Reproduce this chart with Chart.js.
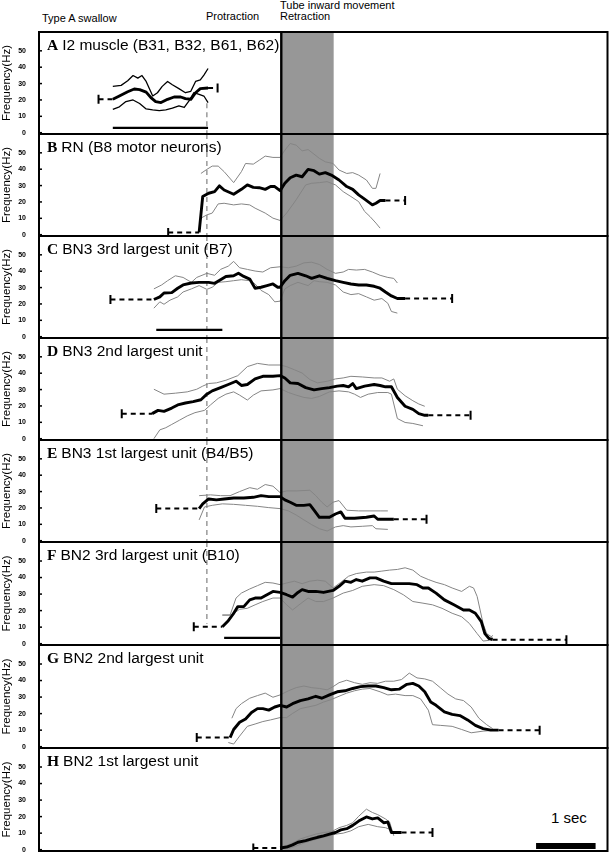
<!DOCTYPE html>
<html>
<head>
<meta charset="utf-8">
<script src="https://cdn.jsdelivr.net/npm/chart.js@4.4.1/dist/chart.umd.min.js"></script>
<style>
  body { margin: 0; background: #fff; }
  #fig { position: relative; width: 614px; height: 853px; background: #fff; font-family: "Liberation Sans", Arial, sans-serif; }
  #fig canvas { position: absolute; left: 0; }
  .hd { position: absolute; font-size: 11px; line-height: 11px; white-space: nowrap; color: #000; }
</style>
</head>
<body>
<div id="fig">
  <div class="hd" style="left:42px;top:13px">Type A swallow</div>
  <div class="hd" style="left:206px;top:11px">Protraction</div>
  <div class="hd" style="left:280px;top:0px">Tube inward movement</div>
  <div class="hd" style="left:280px;top:11px">Retraction</div>
  <div class="hd" style="left:551px;top:810px;font-size:15px;line-height:15px">1 sec</div>
</div>
<script>
// time in seconds from retraction onset, frequency in Hz

const xMin = -4.07, xMax = 5.48;
const yMin = -0.8, yMax = 61.5;
const yTicks = [0, 10, 20, 30, 40, 50];
const protractionT = -1.25;
const retractStart = 0, retractEnd = 0.88;

// A  I2 muscle
const aMean = [[-2.83,20.4],[-2.72,22.4],[-2.58,25],[-2.47,26.7],[-2.38,26.3],[-2.27,24.8],[-2.19,21.4],[-2.11,19],[-2.02,18.4],[-1.91,20.4],[-1.80,21.8],[-1.69,21.8],[-1.61,20.8],[-1.52,20.4],[-1.44,24.4],[-1.36,26.9],[-1.23,27.3]];
const aUpper = [[-2.83,28.3],[-2.69,28.9],[-2.58,31.7],[-2.49,34.9],[-2.41,33.3],[-2.34,34.9],[-2.27,31.3],[-2.16,22.4],[-2.08,24.4],[-2.00,28.3],[-1.91,31.3],[-1.83,29.3],[-1.72,26.9],[-1.61,24.4],[-1.52,25.3],[-1.44,31.3],[-1.36,32.3],[-1.30,35.2],[-1.23,39.2]];
const aLower = [[-2.83,14.3],[-2.72,15.8],[-2.61,19],[-2.49,20],[-2.38,17.8],[-2.27,14.5],[-2.16,13.9],[-2.05,13.5],[-1.94,13.9],[-1.83,15],[-1.72,16.4],[-1.63,15.4],[-1.55,19.4],[-1.47,24.4],[-1.38,23.4],[-1.30,22.4],[-1.23,18.4]];
const aPre = [[-3.07,20.4],[-2.83,20.4]];
const aPost = [[-1.23,27.3],[-1.07,27.3]];
const aBar = [[-2.83,3],[-1.23,3]];

// B  RN (B8)
const bMean = [[-1.38,1.4],[-1.32,23.3],[-1.22,25.3],[-1.12,26.3],[-1.04,29.8],[-0.96,27.3],[-0.80,24.7],[-0.67,27.7],[-0.57,30.4],[-0.47,28.9],[-0.37,28.7],[-0.27,27.7],[-0.18,29.4],[-0.11,29.4],[-0.02,26.9],[0.06,31.4],[0.15,34.8],[0.25,36.4],[0.35,35.4],[0.45,39.9],[0.55,39.1],[0.64,37],[0.74,37.9],[0.84,36.4],[0.97,33.4],[1.10,29.4],[1.20,27.7],[1.30,24.3],[1.40,21.7],[1.53,18.2],[1.59,19.2],[1.66,20.9],[1.75,20.9]];
const bUpper = [[-1.35,37.4],[-1.25,39.9],[-1.16,41.9],[-1.06,41.9],[-0.96,38.5],[-0.80,31.8],[-0.67,38.5],[-0.60,43.5],[-0.47,43.1],[-0.37,45.5],[-0.27,48],[-0.14,47.2],[-0.02,47.2],[0.06,51.6],[0.15,55.7],[0.25,54.7],[0.35,51.2],[0.45,52],[0.55,49.2],[0.64,46.6],[0.74,44.5],[0.87,43.5],[0.97,39.5],[1.10,37.4],[1.20,37.9],[1.30,36.4],[1.43,33.4],[1.53,28.3],[1.59,28.3],[1.66,37.4]];
const bLower = [[-1.35,10.1],[-1.25,12.1],[-1.16,13.2],[-1.06,18.8],[-0.96,19.2],[-0.80,18.2],[-0.67,18.8],[-0.53,18.2],[-0.44,16.2],[-0.27,13.2],[-0.14,10.1],[-0.02,8.7],[0.09,13.2],[0.25,21.3],[0.41,30.4],[0.51,31.4],[0.64,31.8],[0.77,32.4],[0.91,30.4],[1.04,26.3],[1.17,23.3],[1.30,20.2],[1.40,14.2],[1.49,11.1],[1.59,7.1],[1.66,4]];
const bPre = [[-1.90,1.4],[-1.38,1.4]];
const bPost = [[1.75,20.9],[2.08,20.9]];

// C  BN3 3rd largest (B7)
const cMean = [[-2.14,22.7],[-2.04,24.3],[-1.97,26.7],[-1.84,26.9],[-1.74,29.6],[-1.65,31.6],[-1.51,32.8],[-1.38,33.2],[-1.22,33.2],[-1.12,32.6],[-1.02,34.8],[-0.93,36.8],[-0.80,37.2],[-0.72,38.7],[-0.63,36.8],[-0.53,35.2],[-0.44,29.6],[-0.34,30.2],[-0.24,31.2],[-0.14,32.2],[-0.06,30.2],[-0.02,30.2],[0.06,34.2],[0.15,37.5],[0.28,38.7],[0.41,37.2],[0.51,35.6],[0.64,37.2],[0.77,35.6],[0.91,34.2],[1.04,33.2],[1.17,32.2],[1.30,31.6],[1.43,31.6],[1.56,30.8],[1.66,29.6],[1.75,27.3],[1.85,24.9],[1.95,23.3],[2.08,23.3]];
const cUpper = [[-2.14,29.2],[-2.01,31.6],[-1.91,34.2],[-1.78,37.2],[-1.65,36.2],[-1.51,33.2],[-1.42,36.2],[-1.25,38.7],[-1.12,37.5],[-1.02,41.1],[-0.89,43.1],[-0.80,46],[-0.70,42.1],[-0.57,41.1],[-0.44,40.1],[-0.31,39.5],[-0.18,42.1],[-0.02,42.7],[0.12,42.1],[0.25,43.1],[0.38,45.1],[0.51,45.5],[0.64,44.1],[0.77,41.1],[0.91,38.7],[1.04,39.5],[1.13,41.1],[1.26,40.7],[1.40,41.1],[1.53,39.5],[1.66,37.5],[1.79,36.2],[1.89,35.6],[1.95,32.8]];
const cLower = [[-2.14,17.4],[-2.04,21.3],[-1.97,19.8],[-1.87,22.3],[-1.74,24.3],[-1.65,27.3],[-1.51,29.2],[-1.38,31.2],[-1.25,28.9],[-1.16,30.2],[-1.06,33.2],[-0.93,33.6],[-0.80,34.2],[-0.67,34.8],[-0.53,34.2],[-0.44,32.2],[-0.34,28.3],[-0.21,25.7],[-0.11,21.3],[-0.02,21.7],[0.06,29.2],[0.15,31.2],[0.28,33.2],[0.45,31.2],[0.55,34.2],[0.64,33.6],[0.77,33.2],[0.91,31.6],[1.04,27.3],[1.17,25.7],[1.30,26.3],[1.43,24.3],[1.56,22.3],[1.69,23.3],[1.79,20.4],[1.85,15.4],[1.95,14.4]];
const cPre = [[-2.87,22.7],[-2.14,22.7]];
const cPost = [[2.08,23.3],[2.87,23.3]];
const cBar = [[-2.10,4.2],[-0.99,4.2]];

// D  BN3 2nd largest
const dMean = [[-2.17,15.3],[-2.07,17.3],[-1.97,16.7],[-1.84,18.7],[-1.74,20.6],[-1.61,21.8],[-1.48,22.6],[-1.35,23.8],[-1.25,27.2],[-1.16,29.2],[-1.02,31.2],[-0.89,33.1],[-0.76,35.1],[-0.67,32.5],[-0.57,33.1],[-0.44,36.5],[-0.31,38.1],[-0.14,38.1],[-0.02,38.5],[0.06,37.1],[0.15,34.1],[0.28,33.7],[0.41,31.2],[0.55,29.8],[0.68,30.6],[0.81,31.2],[0.94,32.1],[1.04,32.5],[1.13,31.7],[1.20,33.7],[1.26,30.6],[1.40,32.1],[1.56,33.1],[1.66,32.5],[1.75,31.7],[1.85,31.7],[1.95,25.2],[2.08,19.8],[2.21,17.9],[2.31,15.3],[2.41,14.3],[2.47,14.3]];
const dUpper = [[-2.14,30.2],[-1.97,27.2],[-1.78,27.8],[-1.58,28.6],[-1.42,30.2],[-1.32,32.1],[-1.22,33.7],[-1.09,34.1],[-0.93,35.7],[-0.73,38.5],[-0.57,44],[-0.40,46],[-0.21,45],[-0.02,45],[0.09,44],[0.22,42.1],[0.35,40.1],[0.48,36.1],[0.61,34.1],[0.77,35.1],[0.91,36.5],[1.04,37.1],[1.17,38.1],[1.36,37.7],[1.56,37.1],[1.69,37.1],[1.82,35.1],[1.89,36.5],[1.95,30.2],[2.08,26.2],[2.21,23.2],[2.31,21.2],[2.41,19.8]];
const dLower = [[-2.14,0],[-2.04,5.4],[-1.94,6.7],[-1.84,8.7],[-1.71,11.3],[-1.58,13.9],[-1.45,15.9],[-1.29,17.3],[-1.19,20.6],[-1.06,24.6],[-0.93,27.2],[-0.80,28.6],[-0.70,26.6],[-0.57,23.6],[-0.47,26.6],[-0.34,29.2],[-0.14,29.8],[-0.02,30.6],[0.12,28.2],[0.25,26.6],[0.38,25.2],[0.51,24.6],[0.64,25.8],[0.81,28.6],[0.97,29.2],[1.13,28.6],[1.23,27.2],[1.33,25.2],[1.46,27.2],[1.62,28.2],[1.79,28.2],[1.85,27.2],[1.95,12.3],[2.08,9.9],[2.21,9.3],[2.38,7.9]];
const dPre = [[-2.68,15.3],[-2.17,15.3]];
const dPost = [[2.47,14.3],[3.18,14.3]];

// E  BN3 1st largest (B4/B5)
const eMean = [[-1.38,19.6],[-1.32,22.5],[-1.22,25.5],[-1.09,24.9],[-0.96,25.5],[-0.80,26.1],[-0.63,26.1],[-0.47,26.5],[-0.34,27.5],[-0.21,26.9],[-0.02,26.9],[0.06,24.9],[0.15,23.5],[0.25,21.6],[0.38,21.6],[0.48,22],[0.55,18.6],[0.64,14.3],[0.81,14.3],[0.91,16.3],[1.00,17.6],[1.07,13.7],[1.23,13.7],[1.43,14.3],[1.56,15.1],[1.62,13.1],[1.75,13.1],[1.89,13.1]];
const eUpper = [[-1.38,27.5],[-1.19,28],[-1.02,27.5],[-0.86,27.5],[-0.70,30],[-0.53,32.4],[-0.40,31.4],[-0.27,34.3],[-0.14,33.3],[-0.02,29.4],[0.09,30.4],[0.25,30.4],[0.48,30.8],[0.58,27.5],[0.68,23.5],[0.77,20.6],[0.87,23.5],[0.97,24.5],[1.10,18.6],[1.30,18.2],[1.49,18.2],[1.66,18.2],[1.79,18.2]];
const eLower = [[-1.38,12.7],[-1.29,20.6],[-1.16,21.6],[-0.99,22.5],[-0.80,22.2],[-0.60,21.6],[-0.40,21],[-0.21,20.2],[-0.02,19.6],[0.12,18.2],[0.25,15.7],[0.38,12.7],[0.51,9.8],[0.64,7.3],[0.77,5.9],[0.91,8.4],[1.04,9.2],[1.17,8.4],[1.36,8.8],[1.53,9.2],[1.59,7.3],[1.79,6.9]];
const ePre = [[-2.10,19.6],[-1.38,19.6]];
const ePost = [[1.89,13.1],[2.44,13.1]];

// F  BN2 3rd largest (B10)
const fMean = [[-0.99,10.2],[-0.89,13.9],[-0.81,17.8],[-0.73,22.4],[-0.63,22.4],[-0.53,26.5],[-0.44,27.6],[-0.34,27.6],[-0.24,29.6],[-0.14,31.6],[-0.02,31],[0.09,29.6],[0.19,28.2],[0.28,31],[0.35,32.7],[0.45,31.6],[0.58,31.6],[0.71,31],[0.87,32.2],[0.97,34.7],[1.07,37.8],[1.17,37.1],[1.26,38.8],[1.36,37.8],[1.49,39.8],[1.59,39.8],[1.72,37.8],[1.85,36.3],[2.02,36.3],[2.15,36.3],[2.28,35.7],[2.38,33.7],[2.47,33.7],[2.60,30.6],[2.74,26.5],[2.90,23.5],[3.06,20.4],[3.16,20.4],[3.26,18.4],[3.36,13.3],[3.42,6.1],[3.49,3.1],[3.55,2.4]];
const fUpper = [[-0.99,17.3],[-0.86,17.3],[-0.76,27.6],[-0.67,30.6],[-0.53,33.1],[-0.40,35.1],[-0.27,37.1],[-0.14,36.7],[-0.02,35.7],[0.09,36.7],[0.22,37.8],[0.35,36.3],[0.48,37.8],[0.61,38.4],[0.74,37.8],[0.87,33.7],[1.00,37.1],[1.13,40.8],[1.26,42.4],[1.43,43.3],[1.56,43.3],[1.69,43.9],[1.82,44.5],[1.95,44.9],[2.08,45.9],[2.21,44.5],[2.34,40.8],[2.47,38.8],[2.60,37.1],[2.74,35.7],[2.87,33.7],[3.03,31.6],[3.16,34.7],[3.23,33.7],[3.29,28.6],[3.39,12.2],[3.45,6.1],[3.55,3.7]];
const fLower = [[-0.99,17.3],[-0.86,17.3],[-0.80,18.4],[-0.70,20.8],[-0.57,21.4],[-0.44,23.5],[-0.31,25.5],[-0.14,27.6],[-0.02,27.6],[0.09,23.5],[0.19,20.4],[0.32,24.1],[0.45,27.6],[0.58,25.5],[0.71,25.5],[0.87,27.6],[1.04,30.6],[1.20,32.2],[1.36,34.7],[1.56,35.7],[1.72,35.1],[1.89,32.7],[2.05,29.6],[2.21,25.5],[2.38,24.5],[2.54,23.5],[2.70,21.4],[2.87,18.4],[3.03,16.3],[3.16,12.2],[3.29,6.1],[3.39,1.6],[3.49,2],[3.55,5.1]];
const fPre = [[-1.47,10.2],[-0.99,10.2]];
const fPost = [[3.55,2.4],[4.79,2.4]];
const fBar = [[-0.96,3.5],[-0.02,3.5]];

// G  BN2 2nd largest
const gMean = [[-0.86,5.5],[-0.80,10.4],[-0.70,14.8],[-0.60,16.8],[-0.50,20.7],[-0.40,23],[-0.31,23],[-0.21,22.1],[-0.11,24],[-0.02,25],[0.09,24],[0.19,26],[0.32,27.9],[0.45,28.9],[0.58,30.5],[0.68,29.3],[0.81,31.3],[0.94,33.2],[1.07,33.8],[1.20,35.2],[1.33,36.3],[1.46,36.7],[1.59,36.7],[1.72,35.7],[1.85,34.4],[1.98,34.8],[2.11,37.7],[2.21,38.3],[2.31,36.7],[2.41,33.2],[2.51,27],[2.60,25],[2.74,21.1],[2.87,19.5],[3.00,18.8],[3.13,16.2],[3.26,12.9],[3.39,10.9],[3.52,10],[3.65,10]];
const gUpper = [[-0.83,17.2],[-0.76,23],[-0.67,26],[-0.53,29.3],[-0.40,30.9],[-0.27,32.4],[-0.14,29.9],[-0.02,31.3],[0.12,33.8],[0.25,35.7],[0.38,36.7],[0.51,35.7],[0.64,35.2],[0.77,34.4],[0.87,36.3],[0.97,38.7],[1.10,40.2],[1.23,38.7],[1.36,37.7],[1.49,38.7],[1.62,38.3],[1.75,39.6],[1.89,39.6],[2.02,40.6],[2.15,44.5],[2.28,41.6],[2.41,41],[2.54,39.6],[2.67,35.7],[2.80,31.8],[2.93,28.9],[3.06,27.9],[3.19,24],[3.32,17.2],[3.45,13.3],[3.55,10.9]];
const gLower = [[-0.89,2.5],[-0.80,1.6],[-0.70,6.4],[-0.57,12.3],[-0.44,13.7],[-0.31,15.2],[-0.18,16.2],[-0.02,17.6],[0.09,17.6],[0.19,20.1],[0.32,23],[0.45,24],[0.58,25],[0.71,27],[0.84,28.5],[0.97,30.5],[1.10,32.4],[1.23,33.8],[1.36,34.8],[1.49,35.2],[1.66,33.2],[1.79,31.3],[1.92,31.8],[2.08,30.9],[2.21,30.9],[2.34,28.9],[2.47,22.1],[2.54,13.3],[2.67,12.9],[2.87,12.3],[3.03,10.4],[3.19,8.4],[3.39,9.4],[3.55,9.8]];
const gPre = [[-1.42,5.5],[-0.86,5.5]];
const gPost = [[3.65,10],[4.34,10]];

// H  BN2 1st largest
const hMean = [[-0.02,1],[0.09,1.6],[0.19,2.9],[0.28,4.5],[0.41,5.5],[0.51,6.5],[0.61,7.5],[0.71,8.4],[0.81,9.4],[0.91,10.4],[1.00,12],[1.10,12.7],[1.20,14.7],[1.30,17.3],[1.43,19.8],[1.53,18.6],[1.62,19.2],[1.72,16.3],[1.79,16.7],[1.85,10.4],[2.02,10.4]];
const hUpper = [[0.09,2.5],[0.19,4.1],[0.32,6.5],[0.45,8],[0.58,9.4],[0.71,10.4],[0.84,10.8],[0.97,13.3],[1.10,14.7],[1.20,16.3],[1.30,20.2],[1.43,24.5],[1.53,22.5],[1.62,21.2],[1.75,18.6],[1.82,16.7],[1.89,8.4]];
const hLower = [[0.12,0.6],[0.25,2.2],[0.38,4.1],[0.51,5.5],[0.64,6.9],[0.77,8],[0.91,9.4],[1.04,10],[1.17,11.4],[1.30,13.9],[1.46,15.3],[1.62,13.9],[1.75,13.3],[1.85,12]];
const hPre = [[-0.47,1],[-0.02,1]];
const hPost = [[2.02,10.4],[2.54,10.4]];
const scaleBar = [[4.28,2.2],[5.28,2.2]];

// protraction marker: [top, bottom] in Hz per panel
const protractionSpan = { A: [18, yMin], B: [yMax, yMin], C: [yMax, yMin], D: [yMax, yMin], E: [yMax, yMin], F: [yMax, 12] };

const panels = [
  { key: "A", name: "I2 muscle (B31, B32, B61, B62)", mean: aMean, upper: aUpper, lower: aLower, pre: aPre, post: aPost, bar: aBar, dark: true },
  { key: "B", name: "RN (B8 motor neurons)", mean: bMean, upper: bUpper, lower: bLower, pre: bPre, post: bPost },
  { key: "C", name: "BN3 3rd largest unit (B7)", mean: cMean, upper: cUpper, lower: cLower, pre: cPre, post: cPost, bar: cBar },
  { key: "D", name: "BN3 2nd largest unit", mean: dMean, upper: dUpper, lower: dLower, pre: dPre, post: dPost },
  { key: "E", name: "BN3 1st largest unit (B4/B5)", mean: eMean, upper: eUpper, lower: eLower, pre: ePre, post: ePost },
  { key: "F", name: "BN2 3rd largest unit (B10)", mean: fMean, upper: fUpper, lower: fLower, pre: fPre, post: fPost, bar: fBar },
  { key: "G", name: "BN2 2nd largest unit", mean: gMean, upper: gUpper, lower: gLower, pre: gPre, post: gPost },
  { key: "H", name: "BN2 1st largest unit", mean: hMean, upper: hUpper, lower: hLower, pre: hPre, post: hPost, scale: scaleBar },
];

const panelTops = [32, 134, 236, 338, 440, 542, 645, 748];
const figBottom = 851;
const pad = 8;

const pts = (arr) => arr.map((p) => ({ x: p[0], y: p[1] }));

const panelDecor = {
  id: "panelDecor",
  beforeDatasetsDraw(chart) {
    const { ctx, chartArea: a, scales } = chart;
    const x0 = scales.x.getPixelForValue(retractStart);
    const x1 = scales.x.getPixelForValue(retractEnd);
    ctx.save();
    ctx.fillStyle = "#979797";
    ctx.fillRect(x0, a.top, x1 - x0, a.bottom - a.top);
    ctx.restore();
  },
  afterDatasetsDraw(chart, args, opts) {
    const { ctx, chartArea: a, scales } = chart;
    ctx.save();
    // retraction onset
    const x0 = scales.x.getPixelForValue(retractStart);
    ctx.strokeStyle = "#000";
    ctx.lineWidth = 2.4;
    ctx.beginPath();
    ctx.moveTo(x0, a.top);
    ctx.lineTo(x0, a.bottom);
    ctx.stroke();
    // frame
    ctx.lineWidth = 2;
    ctx.strokeRect(a.left, a.top, a.right - a.left, a.bottom - a.top);
    // inward ticks
    ctx.lineWidth = 1.5;
    yTicks.forEach((v) => {
      const y = scales.y.getPixelForValue(v);
      ctx.beginPath();
      ctx.moveTo(a.left - 1, y);
      ctx.lineTo(a.left + 3, y);
      ctx.stroke();
    });
    // panel title
    ctx.fillStyle = "#000";
    ctx.textBaseline = "alphabetic";
    const base = a.top + 18;
    ctx.font = 'bold 15.5px "Liberation Serif"';
    ctx.fillText(opts.letter, 47, base);
    const w = ctx.measureText(opts.letter).width;
    ctx.font = '15.5px "Liberation Sans"';
    ctx.fillText(opts.name, 47 + w + 4, base);
    ctx.restore();
  },
};

const fig = document.getElementById("fig");

panels.forEach((p, i) => {
  const top = panelTops[i];
  const bottom = i < panelTops.length - 1 ? panelTops[i + 1] : figBottom;
  const h = bottom - top;
  const canvas = document.createElement("canvas");
  canvas.width = 614;
  canvas.height = h + pad * 2;
  canvas.style.top = top - pad + "px";
  fig.appendChild(canvas);

  const band = p.dark ? "#000" : "#858585";
  const datasets = [
    { data: pts(p.mean), borderColor: "#000", borderWidth: 2.9 },
    { data: pts(p.pre), borderColor: "#000", borderWidth: 2, borderDash: [5, 4],
      pointRadius: [4.5, 0], pointStyle: "line", pointRotation: 90, pointBorderWidth: 2, pointBorderColor: "#000" },
    { data: pts(p.post), borderColor: "#000", borderWidth: 2, borderDash: [5, 4],
      pointRadius: [0, 4.5], pointStyle: "line", pointRotation: 90, pointBorderWidth: 2, pointBorderColor: "#000" },
    { data: pts(p.upper), borderColor: band, borderWidth: p.dark ? 1.3 : 1 },
    { data: pts(p.lower), borderColor: band, borderWidth: p.dark ? 1.3 : 1 },
  ];
  if (p.bar) datasets.push({ data: pts(p.bar), borderColor: "#000", borderWidth: 2.2 });
  if (p.scale) datasets.push({ data: pts(p.scale), borderColor: "#000", borderWidth: 6, borderCapStyle: "butt" });
  const span = protractionSpan[p.key];
  if (span) {
    datasets.push({
      data: [{ x: protractionT, y: span[0] }, { x: protractionT, y: span[1] }],
      borderColor: "#8a8a8a", borderWidth: 1.3, borderDash: [5, 4],
    });
  }
  datasets.forEach((d) => {
    if (d.pointRadius === undefined) d.pointRadius = 0;
    d.tension = 0;
    d.fill = false;
    d.borderJoinStyle = "round";
  });

  new Chart(canvas, {
    type: "line",
    data: { datasets },
    options: {
      responsive: false,
      animation: false,
      events: [],
      layout: { padding: { top: pad, bottom: pad, left: 0, right: 2 } },
      plugins: {
        legend: { display: false },
        tooltip: { enabled: false },
        panelDecor: { letter: p.key, name: p.name },
      },
      scales: {
        x: { type: "linear", min: xMin, max: xMax, display: false },
        y: {
          min: yMin,
          max: yMax,
          afterBuildTicks: (s) => { s.ticks = yTicks.map((v) => ({ value: v })); },
          afterFit: (s) => { s.width = 39; s.paddingTop = 0; s.paddingBottom = 0; },
          grid: { display: false },
          border: { display: false },
          ticks: { padding: 5, color: "#000", font: { size: 7, weight: "bold", family: "Liberation Sans" } },
          title: { display: true, text: "Frequency(Hz)", padding: 0, color: "#000", font: { size: 11.5, family: "Liberation Sans" } },
        },
      },
    },
    plugins: [panelDecor],
  });
});
</script>
</body>
</html>
